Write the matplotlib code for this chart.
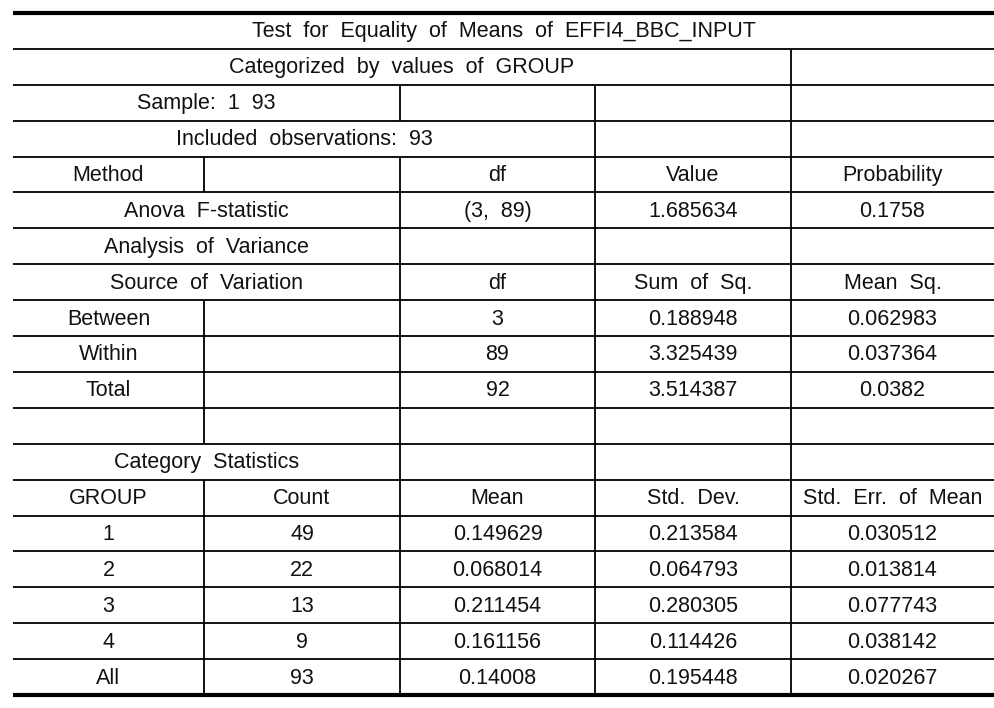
# Ricostruzione della tabella ANOVA (Test for Equality of Means) come figura matplotlib.

import matplotlib.pyplot as plt
from matplotlib import font_manager

# --- dati della tabella ---
title = "Test  for  Equality  of  Means  of  EFFI4_BBC_INPUT"
subtitle = "Categorized  by  values  of  GROUP"
sample_txt = "Sample:  1  93"
included_txt = "Included  observations:  93"

method_cols = ["Method", "", "df", "Value", "Probability"]
anova_label = "Anova  F-statistic"
anova_vals = ["(3,  89)", "1.685634", "0.1758"]

aov_title = "Analysis  of  Variance"
aov_cols = ["Source  of  Variation", "df", "Sum  of  Sq.", "Mean  Sq."]
aov_sources = ["Between", "Within", "Total"]
aov_df = ["3", "89", "92"]
aov_ss = ["0.188948", "3.325439", "3.514387"]
aov_ms = ["0.062983", "0.037364", "0.0382"]

cat_title = "Category  Statistics"
cat_cols = ["GROUP", "Count", "Mean", "Std.  Dev.", "Std.  Err.  of  Mean"]
groups = ["1", "2", "3", "4", "All"]
counts = ["49", "22", "13", "9", "93"]
means = ["0.149629", "0.068014", "0.211454", "0.161156", "0.14008"]
std_devs = ["0.213584", "0.064793", "0.280305", "0.114426", "0.195448"]
std_errs = ["0.030512", "0.013814", "0.077743", "0.038142", "0.020267"]

# --- righe: lista di celle (testo, colonna iniziale, colonna finale) ---
rows = []
rows.append([(title, 0, 5)])
rows.append([(subtitle, 0, 4), ("", 4, 5)])
rows.append([(sample_txt, 0, 2), ("", 2, 3), ("", 3, 4), ("", 4, 5)])
rows.append([(included_txt, 0, 3), ("", 3, 4), ("", 4, 5)])
rows.append([(t, i, i + 1) for i, t in enumerate(method_cols)])
rows.append([(anova_label, 0, 2)] + [(v, i + 2, i + 3) for i, v in enumerate(anova_vals)])
rows.append([(aov_title, 0, 2), ("", 2, 3), ("", 3, 4), ("", 4, 5)])
rows.append([(aov_cols[0], 0, 2)] + [(v, i + 2, i + 3) for i, v in enumerate(aov_cols[1:])])
for s, d, ss, ms in zip(aov_sources, aov_df, aov_ss, aov_ms):
    rows.append([(s, 0, 1), ("", 1, 2), (d, 2, 3), (ss, 3, 4), (ms, 4, 5)])
rows.append([("", i, i + 1) for i in range(5)])
rows.append([(cat_title, 0, 2), ("", 2, 3), ("", 3, 4), ("", 4, 5)])
rows.append([(t, i, i + 1) for i, t in enumerate(cat_cols)])
for r in zip(groups, counts, means, std_devs, std_errs):
    rows.append([(t, i, i + 1) for i, t in enumerate(r)])

# --- layout (pixel) ---
W, H = 994, 708
col_x = [13, 204, 400, 595, 791, 994]
top, bottom = 13, 695
row_h = (bottom - top) / len(rows)

# font stretto se disponibile, altrimenti Liberation Sans
names = {f.name for f in font_manager.fontManager.ttflist}
if "Liberation Sans Narrow" in names:
    font = dict(family="Liberation Sans Narrow", fontsize=17.5, color="#111111")
else:
    font = dict(family="Liberation Sans", fontsize=15.5, color="#111111")
print(font["family"])

fig = plt.figure(figsize=(W / 100, H / 100), dpi=100)
ax = fig.add_axes([0, 0, 1, 1])
ax.set_xlim(0, W)
ax.set_ylim(H, 0)
ax.axis("off")

for i, row in enumerate(rows):
    y0 = top + i * row_h
    y1 = y0 + row_h
    # linea orizzontale inferiore (tranne l'ultima, disegnata spessa)
    if i < len(rows) - 1:
        ax.hlines(y1, col_x[0], col_x[-1], color="black", lw=1.3)
    for text, c0, c1 in row:
        # separatori verticali interni
        if c0 > 0:
            ax.vlines(col_x[c0], y0, y1, color="black", lw=1.3)
        if text:
            ax.text((col_x[c0] + col_x[c1]) / 2, (y0 + y1) / 2 + 1, text,
                    ha="center", va="center", **font)

# bordi superiore e inferiore spessi
ax.hlines(top, col_x[0], col_x[-1], color="black", lw=3)
ax.hlines(bottom, col_x[0], col_x[-1], color="black", lw=3)

fig.savefig("out.png", dpi=100, facecolor="white")
